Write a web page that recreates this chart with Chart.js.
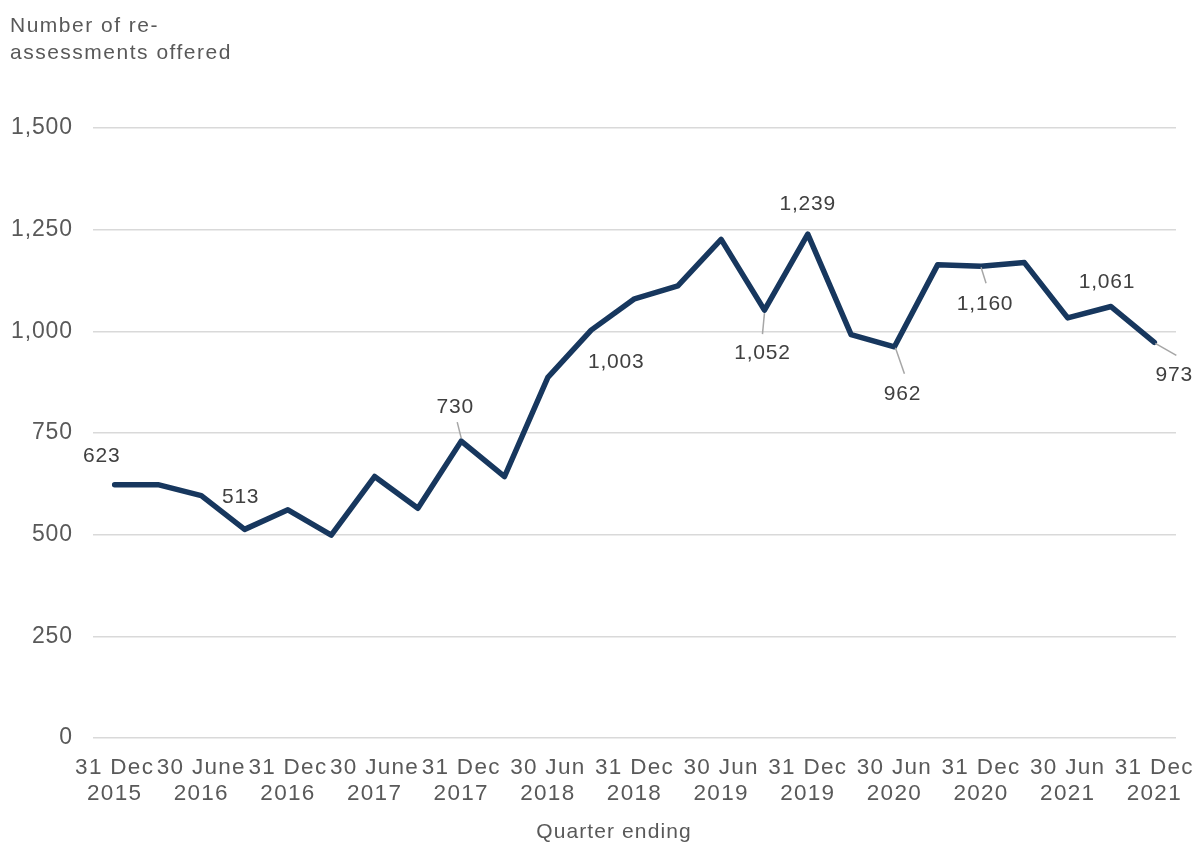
<!DOCTYPE html>
<html>
<head>
<meta charset="utf-8">
<script src="https://cdn.jsdelivr.net/npm/chart.js@4.4.1/dist/chart.umd.min.js"></script>
<style>
  html, body { margin: 0; padding: 0; background: #fff; }
  #wrap { width: 1198px; height: 843px; position: relative; }
</style>
</head>
<body>
<div id="wrap"><canvas id="chart"></canvas></div>
<script>
// Quarter ending dates, one per point
const quarters = [
  "31 Dec 2015", "31 Mar 2016", "30 June 2016", "30 Sep 2016",
  "31 Dec 2016", "31 Mar 2017", "30 June 2017", "30 Sep 2017",
  "31 Dec 2017", "31 Mar 2018", "30 Jun 2018", "30 Sep 2018",
  "31 Dec 2018", "31 Mar 2019", "30 Jun 2019", "30 Sep 2019",
  "31 Dec 2019", "31 Mar 2020", "30 Jun 2020", "30 Sep 2020",
  "31 Dec 2020", "31 Mar 2021", "30 Jun 2021", "30 Sep 2021",
  "31 Dec 2021"
];
// Number of re-assessments offered
const reassessments = [
  623, 623, 596, 513, 561, 499, 643, 565, 730, 643, 887, 1003, 1080,
  1112, 1226, 1052, 1239, 992, 962, 1164, 1160, 1169, 1033, 1061, 973
];
const yTicks = [0, 250, 500, 750, 1000, 1250, 1500];
// which points get a value label
const labelledPoints = [0, 3, 8, 11, 15, 16, 18, 20, 23, 24];

const FONT = "'Liberation Sans', Arial, sans-serif";
const TEXT_GREY = "#595959";
const LINE_NAVY = "#17375e";
const X_SPACING = "1.3px";
const Y_SPACING = "0.9px";

// where each value label sits relative to its point (px), plus optional leader line
const labelPlacement = {
  0: { dx: -13, dy: -28 },
  3: { dx: -4, dy: -32 },
  8: { dx: -6, dy: -34, leader: [-4, -19, 0, -3] },
  11: { dx: 25, dy: 32 },
  15: { dx: -2, dy: 43, leader: [0, 3, -2, 24] },
  16: { dx: 0, dy: -30 },
  18: { dx: 8, dy: 47, leader: [1, 1, 10, 27] },
  20: { dx: 4, dy: 38, leader: [0, 1, 5, 17] },
  23: { dx: -4, dy: -24 },
  24: { dx: 20, dy: 33, leader: [1, 1, 22, 13] }
};

// Excel-like wide letter spacing (x tick labels use the chart default)
const spacing = {
  id: "spacing",
  beforeUpdate(chart) { chart.ctx.letterSpacing = X_SPACING; },
  beforeDraw(chart) { chart.ctx.letterSpacing = X_SPACING; }
};

// axis titles drawn as plain text
const titles = {
  id: "titles",
  afterDraw(chart) {
    const ctx = chart.ctx;
    ctx.save();
    ctx.fillStyle = TEXT_GREY;
    ctx.textBaseline = "middle";
    ctx.font = "21px " + FONT;
    ctx.letterSpacing = "1.5px";
    ctx.textAlign = "left";
    ctx.fillText("Number of re-", 10, 26);
    ctx.fillText("assessments offered", 10, 53);
    ctx.letterSpacing = "1.1px";
    ctx.textAlign = "center";
    ctx.fillText("Quarter ending", 614, 832);
    ctx.restore();
  }
};

// value labels with leader lines
const valueLabels = {
  id: "valueLabels",
  afterDatasetsDraw(chart) {
    const ctx = chart.ctx;
    const meta = chart.getDatasetMeta(0);
    ctx.save();
    ctx.letterSpacing = "0.8px";
    ctx.font = "21px " + FONT;
    ctx.textAlign = "center";
    ctx.textBaseline = "middle";
    labelledPoints.forEach((i) => {
      const pt = meta.data[i];
      const pl = labelPlacement[i];
      if (pl.leader) {
        ctx.strokeStyle = "#a6a6a6";
        ctx.lineWidth = 1.5;
        ctx.beginPath();
        ctx.moveTo(pt.x + pl.leader[0], pt.y + pl.leader[1]);
        ctx.lineTo(pt.x + pl.leader[2], pt.y + pl.leader[3]);
        ctx.stroke();
      }
      ctx.fillStyle = "#404040";
      ctx.fillText(reassessments[i].toLocaleString("en-GB"), pt.x + pl.dx, pt.y + pl.dy);
    });
    ctx.restore();
  }
};

new Chart(document.getElementById("chart"), {
  type: "line",
  data: {
    labels: quarters,
    datasets: [{
      data: reassessments,
      borderColor: LINE_NAVY,
      borderWidth: 5.5,
      borderJoinStyle: "round",
      borderCapStyle: "round",
      pointRadius: 0,
      tension: 0,
      fill: false
    }]
  },
  options: {
    responsive: true,
    maintainAspectRatio: false,
    animation: false,
    devicePixelRatio: 1,
    layout: { padding: { top: 128, left: 12, right: 22, bottom: 19 } },
    plugins: {
      legend: { display: false },
      tooltip: { enabled: false }
    },
    scales: {
      x: {
        offset: true,
        afterFit: (axis) => { axis.paddingLeft = 0; axis.paddingRight = 0; },
        grid: { display: false, drawTicks: false },
        border: { display: false },
        ticks: {
          autoSkip: false,
          maxRotation: 0,
          padding: 16.5,
          color: TEXT_GREY,
          font: { family: FONT, size: 22.5, lineHeight: "26.5px" },
          callback: function (value, index) {
            if (index % 2 !== 0) return "";
            const s = quarters[index];
            const cut = s.lastIndexOf(" ");
            return [s.slice(0, cut), s.slice(cut + 1)];
          }
        }
      },
      y: {
        min: 0,
        max: 1500,
        afterBuildTicks: (axis) => {
          axis.ticks = yTicks.map((v) => ({ value: v }));
        },
        afterFit: (axis) => { axis.width = 81; },
        afterUpdate: (axis) => {
          // y labels are spaced a little tighter than the x labels
          if (axis._spacedLabels) return;
          axis._spacedLabels = true;
          const base = axis.drawLabels;
          axis.drawLabels = function (area) {
            const ctx = this.ctx;
            const prev = ctx.letterSpacing;
            ctx.letterSpacing = Y_SPACING;
            base.call(this, area);
            ctx.letterSpacing = prev;
          };
        },
        grid: { color: "#d9d9d9", lineWidth: 1.5, drawTicks: false },
        border: { display: false },
        ticks: {
          padding: 20,
          color: TEXT_GREY,
          font: { family: FONT, size: 23 },
          callback: (v) => Number(v).toLocaleString("en-GB")
        }
      }
    }
  },
  plugins: [spacing, titles, valueLabels]
});
</script>
</body>
</html>
